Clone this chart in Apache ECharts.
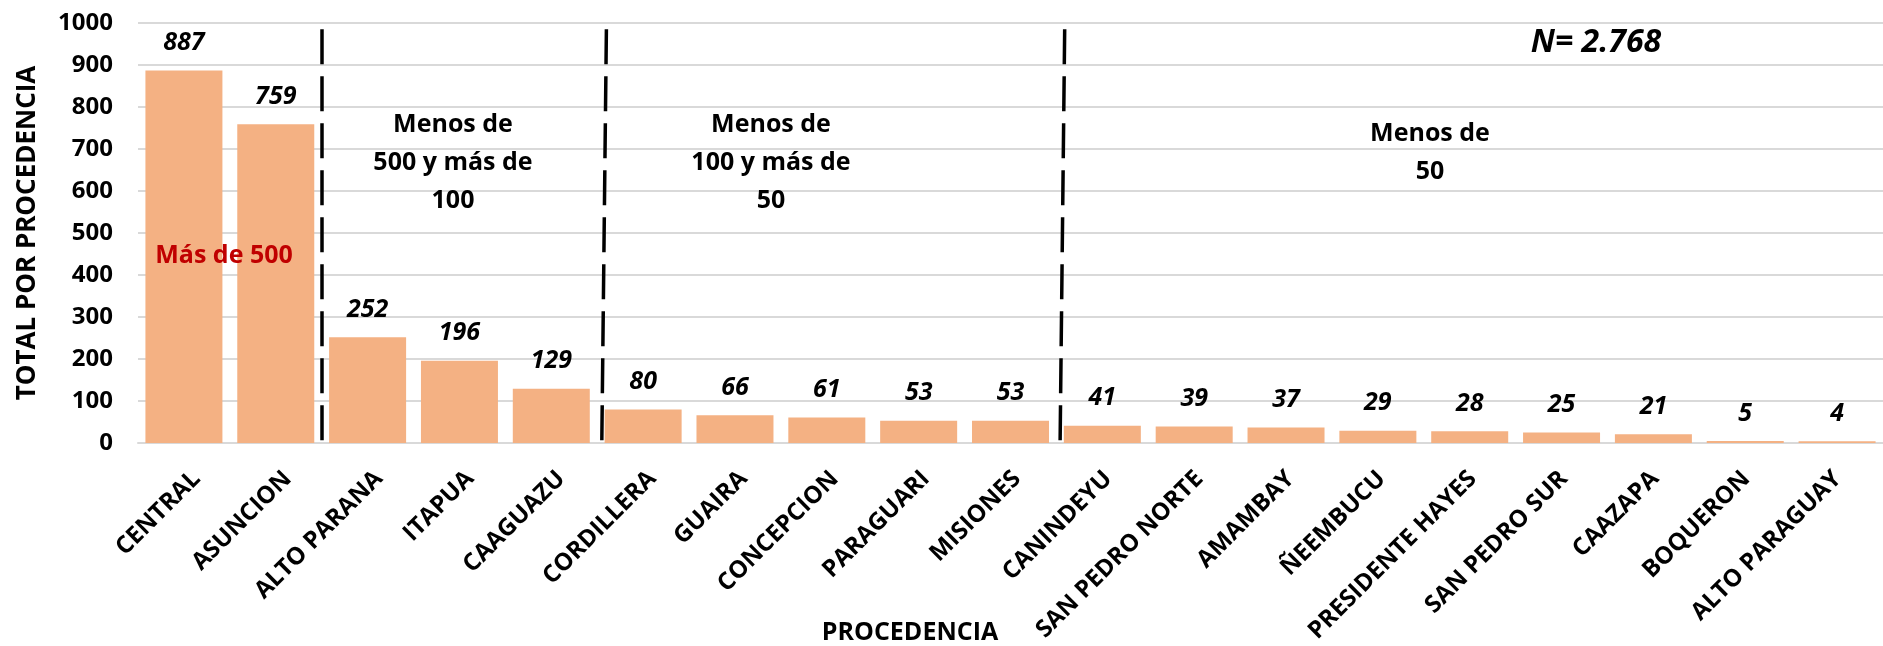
<!DOCTYPE html>
<html>
<head>
<meta charset="utf-8">
<script src="https://cdn.jsdelivr.net/npm/echarts@6/dist/echarts.min.js"></script>
<style>html,body{margin:0;padding:0;background:#fff;}#c{width:1883px;height:646px;}</style>
</head>
<body>
<div id="c"></div>
<script>
const categories = ['CENTRAL','ASUNCION','ALTO PARANA','ITAPUA','CAAGUAZU','CORDILLERA','GUAIRA','CONCEPCION','PARAGUARI','MISIONES','CANINDEYU','SAN PEDRO NORTE','AMAMBAY','ÑEEMBUCU','PRESIDENTE HAYES','SAN PEDRO SUR','CAAZAPA','BOQUERON','ALTO PARAGUAY'];
const values = [887,759,252,196,129,80,66,61,53,53,41,39,37,29,28,25,21,5,4];
const yTicks = [0,100,200,300,400,500,600,700,800,900,1000];
// group dividers, in category units (top end, bottom end)
const dividerTop = [2.0, 5.1, 10.09];
const dividerBottom = [2.0, 5.05, 10.04];
const groupTexts = ['Más de 500', 'Menos de\n500 y más de\n100', 'Menos de\n100 y más de\n50', 'Menos de\n50'];
const totalText = 'N= 2.768';
const yName = 'TOTAL POR PROCEDENCIA';
const xName = 'PROCEDENCIA';

const FONT = '"Open Sans", "Noto Sans", sans-serif';
const chart = echarts.init(document.getElementById('c'));

const dividerLines = dividerTop.map((t, i) => [
  {coord: [t, 985]},
  {coord: [dividerBottom[i], 0]}
]);

chart.setOption({
  animation: false,
  backgroundColor: '#fff',
  grid: [
    {left: 138, right: -18, top: 23, bottom: 203, containLabel: false},
    {left: 151, right: -31, top: 23, bottom: 203, containLabel: false}
  ],
  xAxis: [{
    type: 'category',
    data: categories,
    gridIndex: 0,
    axisLine: {show: true, lineStyle: {color: '#d9d9d9', width: 2}},
    axisTick: {show: false},
    axisLabel: {show: false}
  }, {
    type: 'value', min: 0, max: 19, show: false, gridIndex: 0
  }, {
    type: 'category',
    data: categories,
    gridIndex: 1,
    axisLine: {show: false},
    axisTick: {show: false},
    splitLine: {show: false},
    axisLabel: {interval: 0, rotate: 45, margin: 32, color: '#000', fontFamily: FONT, fontWeight: 'bold', fontSize: 24}
  }],
  yAxis: [{
    type: 'value',
    gridIndex: 0,
    min: yTicks[0], max: yTicks[yTicks.length - 1], interval: 100,
    name: yName, nameLocation: 'middle', nameRotate: 90, nameGap: 97,
    nameTextStyle: {color: '#000', fontFamily: FONT, fontWeight: 'bold', fontSize: 26},
    axisLine: {show: false},
    axisTick: {show: false},
    splitLine: {lineStyle: {color: '#d9d9d9', width: 2}},
    axisLabel: {margin: 25, color: '#000', fontFamily: FONT, fontWeight: 'bold', fontSize: 24, formatter: v => String(v)}
  }, {
    type: 'value', gridIndex: 1, min: 0, max: 1000, show: false
  }],
  series: [{
    type: 'bar',
    data: values,
    barWidth: 77,
    itemStyle: {color: '#F4B183'},
    label: {show: true, position: 'top', distance: 15, color: '#000', fontFamily: FONT, fontWeight: 'bold', fontStyle: 'italic', fontSize: 25}
  }, {
    type: 'line',
    xAxisIndex: 1,
    yAxisIndex: 0,
    data: [],
    silent: true,
    markLine: {
      symbol: 'none',
      silent: true,
      label: {show: false},
      lineStyle: {color: '#000', width: 3.5, type: [35, 12]},
      data: dividerLines
    }
  }],
  graphic: [
    {type: 'text', x: 224, y: 256, z: 100, style: {text: groupTexts[0], fill: '#C00000', font: 'bold 25px ' + FONT, align: 'center', verticalAlign: 'middle'}},
    {type: 'text', x: 453, y: 163, z: 100, style: {text: groupTexts[1], fill: '#000', font: 'bold 25px ' + FONT, align: 'center', verticalAlign: 'middle', lineHeight: 38}},
    {type: 'text', x: 771, y: 163, z: 100, style: {text: groupTexts[2], fill: '#000', font: 'bold 25px ' + FONT, align: 'center', verticalAlign: 'middle', lineHeight: 38}},
    {type: 'text', x: 1430, y: 153, z: 100, style: {text: groupTexts[3], fill: '#000', font: 'bold 25px ' + FONT, align: 'center', verticalAlign: 'middle', lineHeight: 38}},
    {type: 'text', x: 1596, y: 43, z: 100, style: {text: totalText, fill: '#000', font: 'italic bold 32px ' + FONT, align: 'center', verticalAlign: 'middle'}},
    {type: 'text', x: 910, y: 633, z: 100, style: {text: xName, fill: '#000', font: 'bold 25px ' + FONT, align: 'center', verticalAlign: 'middle'}}
  ]
});
</script>
</body>
</html>
